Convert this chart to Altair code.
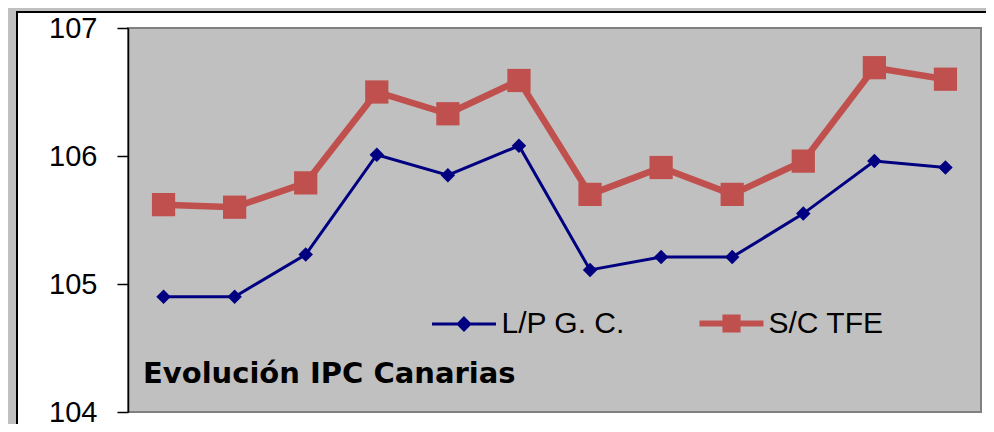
import altair as alt
import pandas as pd

# ---- data ----
periods = list(range(1, 13))
lp_gc = [104.90, 104.90, 105.23, 106.01, 105.85, 106.08, 105.11, 105.21, 105.21, 105.55, 105.96, 105.91]
sc_tfe = [105.62, 105.60, 105.79, 106.50, 106.33, 106.59, 105.70, 105.91, 105.70, 105.96, 106.69, 106.60]
series_names = ["L/P G. C.", "S/C TFE"]
y_ticks = [104, 105, 106, 107]
chart_title = "Evolución IPC Canarias"

df = pd.DataFrame({
    "periodo": periods * 2,
    "serie": [series_names[0]] * len(periods) + [series_names[1]] * len(periods),
    "valor": lp_gc + sc_tfe,
})
one = pd.DataFrame({"k": [0]})

W, H = 853, 384
BLUE = "#000080"
RED = "#C0504D"

x_enc = alt.X("periodo:O", scale=alt.Scale(type="point", padding=0.5), axis=None)
y_enc = alt.Y(
    "valor:Q",
    scale=alt.Scale(domain=[104, 107], nice=False, zero=False),
    axis=alt.Axis(
        values=y_ticks, format="d", title=None, grid=False,
        tickSize=11, tickWidth=1.5, tickColor="black",
        domainColor="black", domainWidth=1.5,
        labelFont="Liberation Sans", labelFontSize=29, labelColor="black",
        labelPadding=20, zindex=1,
    ),
)

# decorative frame and plot background
frame = alt.Chart(one).mark_rect(fill="white", stroke="black", strokeWidth=2).encode(
    x=alt.value(-111), x2=alt.value(W + 40), y=alt.value(-16), y2=alt.value(H + 40)
)
plot_bg = alt.Chart(one).mark_rect(fill="#c0c0c0", stroke="#808080", strokeWidth=2).encode(
    x=alt.value(0), x2=alt.value(W), y=alt.value(0), y2=alt.value(H)
)


def series_layer(name, color, line_w, shape, size, sym_path, sym_stroke, lx, ly, loff):
    base = alt.Chart(df).transform_filter(alt.datum.serie == name)
    line = base.mark_line(color=color, strokeWidth=line_w).encode(x=x_enc, y=y_enc)
    pts = base.mark_point(filled=True, shape=shape, size=size, opacity=1).encode(
        x=x_enc, y=y_enc,
        color=alt.Color(
            "serie:N",
            scale=alt.Scale(domain=[name], range=[color]),
            legend=alt.Legend(
                orient="none", legendX=lx, legendY=ly, title=None,
                symbolType=sym_path, symbolSize=4096,
                symbolStrokeWidth=sym_stroke, symbolStrokeColor=color,
                symbolOpacity=1,
                labelFont="Liberation Sans", labelFontSize=30, labelColor="black",
                labelOffset=loff, padding=0,
            ),
        ),
    )
    return alt.layer(line, pts)


blue = series_layer(series_names[0], BLUE, 3, "diamond", 210,
                    "M-1,0H1M0,-0.18L0.18,0L0,0.18L-0.18,0Z", 3, 302.5, 262.5, 4)
red = series_layer(series_names[1], RED, 6.5, "square", 540,
                   "M-1,0H1M-0.19,-0.19H0.19V0.19H-0.19Z", 6, 568.5, 260.5, 2)

title_txt = alt.Chart(one).mark_text(
    text=chart_title, align="left", baseline="alphabetic",
    font="DejaVu Sans", fontWeight="bold", fontSize=29, color="black",
).encode(x=alt.value(15), y=alt.value(355))

chart = (
    alt.layer(frame, plot_bg, blue, red, title_txt)
    .resolve_scale(color="independent")
    .resolve_legend(color="independent")
    .properties(
        width=W, height=H,
        padding={"left": 120, "top": 20, "right": 5, "bottom": 12},
        autosize=alt.AutoSizeParams(type="none"),
        background="#c0c0c0",
    )
    .configure_view(strokeWidth=0)
)

chart.save("out.html", embed_options={"renderer": "svg", "actions": False})
